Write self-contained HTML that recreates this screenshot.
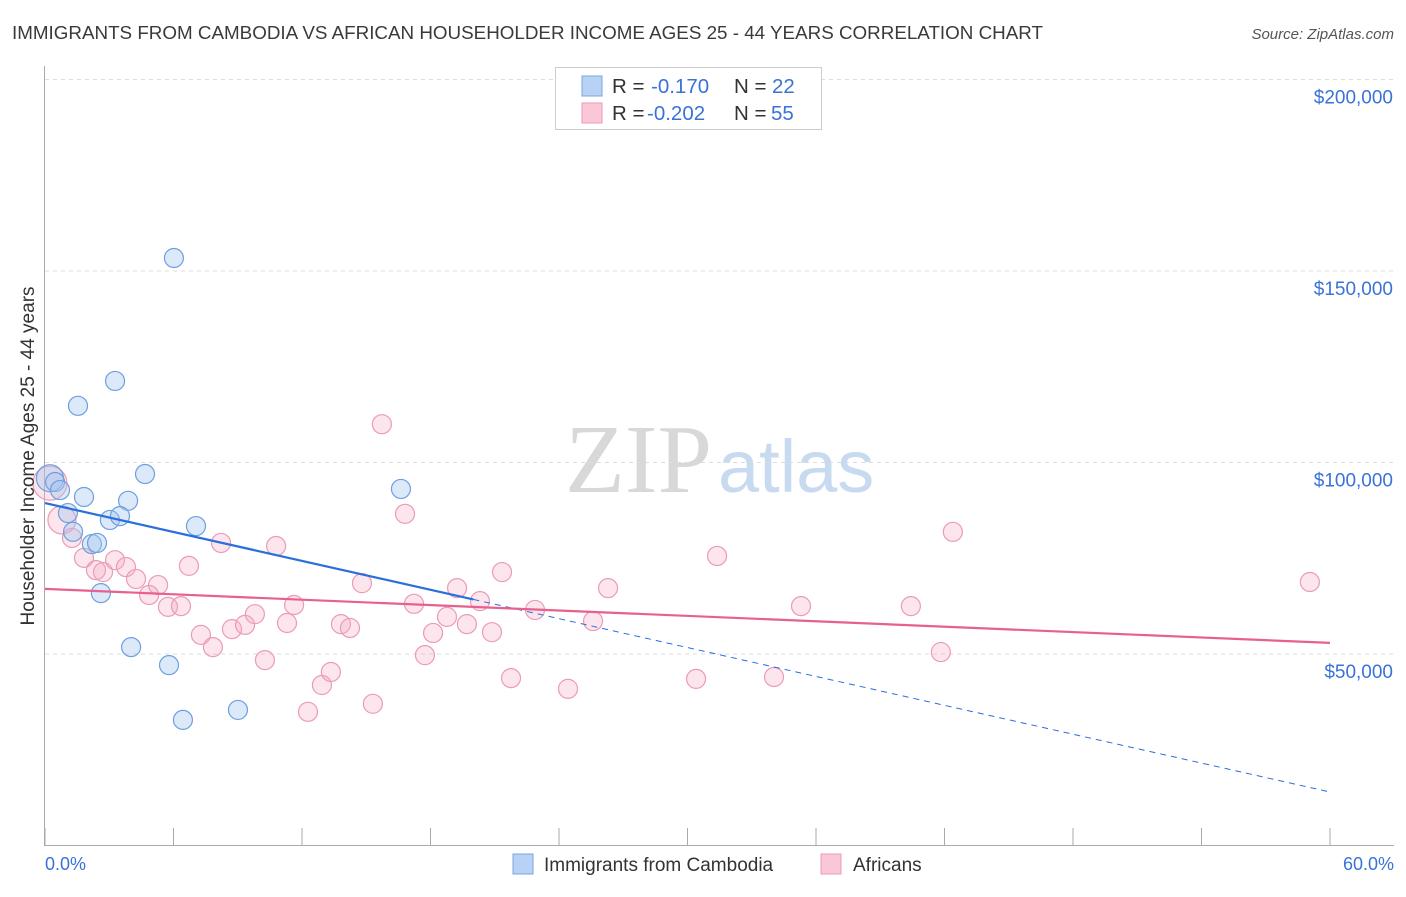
<!DOCTYPE html>
<html><head><meta charset="utf-8"><style>
body{margin:0;background:#fff;font-family:"Liberation Sans",sans-serif}
</style></head><body>
<svg id="c" width="1406" height="892" xmlns="http://www.w3.org/2000/svg">
<text x="12" y="39" font-size="18.8" fill="#3a3a3a" textLength="1031" lengthAdjust="spacingAndGlyphs">IMMIGRANTS FROM CAMBODIA VS AFRICAN HOUSEHOLDER INCOME AGES 25 - 44 YEARS CORRELATION CHART</text>
<text x="1394" y="39" font-size="15" fill="#555" font-style="italic" text-anchor="end">Source: ZipAtlas.com</text>
<text x="712" y="492" font-size="98" fill="#d8d8d8" text-anchor="end" font-family="Liberation Serif,serif">ZIP</text>
<text x="718" y="492" font-size="74" fill="#c8daf0">atlas</text>
<g id="grid"></g><g id="axes"></g><g id="marks"></g>
<text transform="translate(34,456) rotate(-90)" font-size="19" fill="#333" text-anchor="middle">Householder Income Ages 25 - 44 years</text>
<text x="45" y="870" font-size="18" fill="#3a72d8">0.0%</text>
<text x="1394" y="870" font-size="18" fill="#3a72d8" text-anchor="end">60.0%</text>
<g>
<rect x="555.5" y="67.5" width="266" height="62" fill="#fff" stroke="#ccc"/>
<rect x="582" y="76" width="20" height="20" fill="#b8d2f5" stroke="#7aa6e0"/>
<rect x="582" y="103" width="20" height="20" fill="#f8c8d8" stroke="#ec9ab8"/>
<text x="612" y="93" font-size="20.5" fill="#333">R = <tspan x="651" fill="#3a72d8">-0.170</tspan><tspan x="734">N = </tspan><tspan x="772" fill="#3a72d8">22</tspan></text>
<text x="612" y="120" font-size="20.5" fill="#333">R = <tspan x="647" fill="#3a72d8">-0.202</tspan><tspan x="734">N = </tspan><tspan x="771" fill="#3a72d8">55</tspan></text>
</g>
<g>
<rect x="513" y="854" width="20" height="20" fill="#b8d2f5" stroke="#7aa6e0"/>
<text x="544" y="871" font-size="19" fill="#333">Immigrants from Cambodia</text>
<rect x="821" y="854" width="20" height="20" fill="#f8c8d8" stroke="#ec9ab8"/>
<text x="853" y="871" font-size="19" fill="#333">Africans</text>
</g>
</svg>
<script>
const yTicks=[50000,100000,150000,200000];
const yTickLabels=["$50,000","$100,000","$150,000","$200,000"];
const xTicks=[0,6,12,18,24,30,36,42,48,54,60];
const blueX=[0.23,0.47,0.70,1.82,1.54,3.27,6.02,4.67,3.88,3.03,3.50,1.07,1.31,2.19,2.43,2.61,4.02,7.05,5.79,6.44,9.01,16.62];
const blueY=[95900,94900,92800,91000,114800,121300,153400,97000,90000,85000,86000,86800,81900,78700,79000,65900,51800,83400,47100,32800,35400,93100];
const blueR=[14,10,10,10,10,10,10,10,10,10,10,10,10,10,10,10,10,10,10,10,10,10];
const pinkX=[0.23,0.79,1.26,1.82,2.38,2.71,3.27,3.78,4.25,4.86,5.28,5.74,6.35,6.72,7.28,7.84,8.22,8.73,9.34,9.80,10.27,10.79,11.30,11.63,12.28,12.93,13.35,13.82,14.24,14.80,15.31,15.73,16.81,17.23,17.74,18.12,18.77,19.24,19.70,20.31,20.87,21.34,21.76,22.88,24.42,25.59,26.29,30.40,31.38,34.04,35.30,40.43,41.83,42.39,59.06];
const pinkY=[94600,85000,80300,75100,71900,71400,74500,72700,69600,65400,68000,62300,62500,73000,55000,51800,79000,56500,57600,60400,48400,78200,58100,62800,34900,41900,45300,57800,56800,68500,37000,110000,86600,63100,49700,55500,59700,67200,57800,63800,55700,71400,43700,61500,40900,58600,67200,43500,75600,44000,62500,62500,50500,81900,68800];
const blueTrend=[89400,13970];
const pinkTrend=[67000,52900];
const NS="http://www.w3.org/2000/svg";
const X=v=>45+v/60*1285, Y=v=>654-(v-50000)*191.5/50000;
function mk(t,a,p){const e=document.createElementNS(NS,t);for(const k in a)e.setAttribute(k,a[k]);p.appendChild(e);return e;}
const grid=document.getElementById('grid'),axes=document.getElementById('axes'),marks=document.getElementById('marks');
yTicks.forEach((v,i)=>{
 const l=mk('line',{x1:45,x2:1394,y1:Y(v),y2:Y(v),stroke:'#dcdcdc','stroke-dasharray':'4,4'},grid);
 
 
 const t=mk('text',{x:1393,y:Y(v)+24,'font-size':19,fill:'#3a72d8','text-anchor':'end'},axes);t.textContent=yTickLabels[i];
 
 
});
mk('line',{x1:44.5,x2:44.5,y1:66,y2:845,stroke:'#aaa'},axes);
mk('line',{x1:44,x2:1394,y1:845.5,y2:845.5,stroke:'#aaa'},axes);
xTicks.forEach(v=>{const l=mk('line',{x1:X(v),x2:X(v),y1:828,y2:845,stroke:'#aaa'},axes);
 
 });
pinkX.forEach((x,i)=>{const c=mk('circle',{cx:X(x),cy:Y(pinkY[i]),r:i<2?(i==0?17:14):9.5,fill:'rgba(244,168,196,0.3)',stroke:'#ec9ab8','stroke-width':1.2},marks);
 
 });
blueX.forEach((x,i)=>{const c=mk('circle',{cx:X(x),cy:Y(blueY[i]),r:blueR[i]-0.5,fill:'rgba(160,196,240,0.38)',stroke:'#6e9fe0','stroke-width':1.2},marks);
 
 });
const bAt=p=>blueTrend[0]+(blueTrend[1]-blueTrend[0])*p/60;
let l=mk('line',{x1:X(0),y1:Y(bAt(0)),x2:X(20),y2:Y(bAt(20)),stroke:'#2a6fdb','stroke-width':2.2},marks);


l=mk('line',{x1:X(20),y1:Y(bAt(20)),x2:X(60),y2:Y(bAt(60)),stroke:'#2a6fdb','stroke-width':1,'stroke-dasharray':'6,5'},marks);


l=mk('line',{x1:X(0),y1:Y(pinkTrend[0]),x2:X(60),y2:Y(pinkTrend[1]),stroke:'#e8608e','stroke-width':2.2},marks);


</script>
</body></html>
